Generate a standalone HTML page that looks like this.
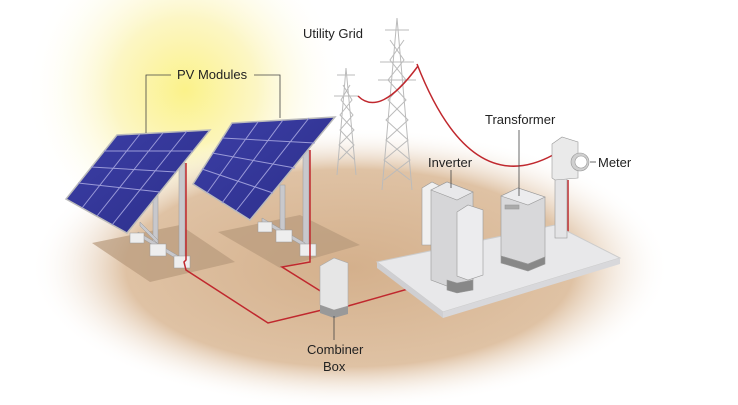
<!DOCTYPE html>
<html><head><meta charset="utf-8"><style>
html,body{margin:0;padding:0;background:#fff;}
svg{display:block}
text{font-family:"Liberation Sans",sans-serif;font-size:13px;fill:#222;}
</style></head><body>
<svg width="738" height="405" viewBox="0 0 738 405" xmlns="http://www.w3.org/2000/svg">
<defs>
<radialGradient id="sun" cx="185" cy="90" r="160" gradientUnits="userSpaceOnUse">
<stop offset="0" stop-color="#fbf28a"/><stop offset="0.45" stop-color="#fcf6c4"/><stop offset="1" stop-color="#fff" stop-opacity="0"/>
</radialGradient>
<radialGradient id="gnd" cx="350" cy="268" r="320" gradientTransform="translate(350 268) scale(1 0.44) translate(-350 -268)" gradientUnits="userSpaceOnUse">
<stop offset="0" stop-color="#d4b08c"/><stop offset="0.7" stop-color="#dfc2a4"/><stop offset="1" stop-color="#fff" stop-opacity="0"/>
</radialGradient>
<linearGradient id="pv" x1="0" y1="0" x2="1" y2="1"><stop offset="0" stop-color="#3c3fa6"/><stop offset="1" stop-color="#2c2e8a"/></linearGradient>
</defs>
<rect width="738" height="405" fill="#fff"/>
<circle cx="185" cy="90" r="160" fill="url(#sun)"/>
<ellipse cx="350" cy="268" rx="320" ry="142" fill="url(#gnd)"/>

<g stroke="#bbb" stroke-width="1" fill="none">
<path d="M397 18 L382 190 M397 18 L412 190 M385 30h24 M380 62h34 M378 80h38 M390 40 L404 60 L388 80 L406 100 L386 120 L408 140 L384 160 L410 180"/>
<path d="M404 40 L390 60 L406 80 L388 100 L408 120 L386 140 L410 160 L384 180"/>
<path d="M346 68 L337 175 M346 68 L356 175 M337 75h18 M334 96h24 M343 85 L352 100 L340 115 L354 130 L339 145 L355 160 M350 85 L341 100 L353 115 L340 130 L354 145 L339 160"/>
</g>
<path d="M358 96 Q380 118 418 66" stroke="#c0282e" stroke-width="1.5" fill="none"/>
<path d="M417 64 Q470 200 553 155" stroke="#c0282e" stroke-width="1.5" fill="none"/>

<polygon points="92,243 180,225 235,262 150,282" fill="#b89a7c" opacity="0.7"/>
<polygon points="218,232 300,215 360,245 280,268" fill="#b89a7c" opacity="0.7"/>

<g fill="#c8c8cc" stroke="#999" stroke-width="0.5">
<rect x="153" y="195" width="5" height="55"/><rect x="179" y="163" width="6" height="97"/>
<polygon points="138,232 182,258 182,262 138,236"/>
<polygon points="140,222 158,240 158,244 140,226"/>
<rect x="130" y="233" width="14" height="10" fill="#eee"/><rect x="150" y="244" width="16" height="12" fill="#eee"/><rect x="174" y="256" width="16" height="12" fill="#eee"/>
<rect x="280" y="185" width="5" height="45"/><rect x="303" y="150" width="6" height="98"/>
<polygon points="262,218 305,243 305,247 262,222"/>
<rect x="258" y="222" width="14" height="10" fill="#eee"/><rect x="276" y="230" width="16" height="12" fill="#eee"/><rect x="300" y="244" width="16" height="12" fill="#eee"/>
</g>
<polygon points="117,135 210,130 127,233 66,199" fill="url(#pv)" stroke="#bbb" stroke-width="1.5"/>
<g stroke="#9a9ad8" stroke-width="1"><path d="M104,151 L193,151 M91,167 L176,172 M78,183 L160,192 M140,134 L82,208 M163,133 L97,216 M187,131 L112,225"/></g>
<polygon points="232,123 335,117 250,220 193,184" fill="url(#pv)" stroke="#bbb" stroke-width="1.5"/>
<g stroke="#9a9ad8" stroke-width="1"><path d="M222,138 L315,143 M212,153 L295,168 M202,169 L273,193 M258,122 L207,193 M283,120 L222,203 M309,118 L236,211"/></g>

<g stroke="#c0282e" stroke-width="1.5" fill="none">
<path d="M186,163 V260 L184,262 L186,270 L268,323 L322,310"/>
<path d="M310,150 V248 L310,262 L282,267 L322,292"/>
<path d="M348,306 L408,289 L411,283 L440,276 L480,264 L530,246 L568,236 V180"/>
</g>

<polygon points="377,262 555,225 620,258 443,312" fill="#e8e8ea" stroke="#ccc"/>
<polygon points="377,262 443,312 443,318 377,268" fill="#cfcfd2"/>
<polygon points="443,312 620,258 620,264 443,318" fill="#d8d8db"/>

<polygon points="320,266 334,258 348,263 348,306 334,310 320,305" fill="#e6e6e6" stroke="#aaa" stroke-width="0.6"/>
<polygon points="320,305 334,310 348,306 348,314 334,318 320,313" fill="#999"/>
<line x1="334" y1="316" x2="334" y2="340" stroke="#444" stroke-width="0.8"/>

<g stroke="#999" stroke-width="0.6">
<polygon points="422,188 432,182 440,186 440,245 422,245" fill="#f0f0f0"/>
<polygon points="431,190 447,182 473,192 473,280 447,286 431,280" fill="#d6d6d8"/>
<polygon points="431,190 447,182 473,192 457,200" fill="#e8e8ea"/>
<polygon points="457,212 468,205 483,210 483,275 468,280 457,276" fill="#ececee"/>
<polygon points="447,280 457,283 473,280 473,290 457,293 447,290" fill="#888"/>
</g>
<line x1="451" y1="170" x2="451" y2="188" stroke="#444" stroke-width="0.8"/>
<g stroke="#999" stroke-width="0.6">
<polygon points="501,196 518,188 545,197 545,257 528,264 501,256" fill="#d8d8da"/>
<polygon points="501,196 518,188 545,197 528,205" fill="#ececee"/>
<polygon points="501,256 528,264 545,257 545,264 528,271 501,263" fill="#888"/>
<rect x="505" y="205" width="14" height="4" fill="#aaa"/>
</g>
<line x1="519" y1="130" x2="519" y2="196" stroke="#444" stroke-width="0.8"/>
<g stroke="#999" stroke-width="0.6">
<rect x="555" y="178" width="12" height="60" fill="#e4e4e6"/>
<polygon points="552,144 562,137 578,142 578,178 555,180 552,178" fill="#eaeaea"/>
<circle cx="580" cy="162" r="9" fill="#d0d0d0"/><circle cx="581" cy="162" r="6" fill="#fff"/>
</g>
<line x1="590" y1="162" x2="596" y2="162" stroke="#444" stroke-width="0.8"/>

<text x="303" y="38">Utility Grid</text>
<text x="177" y="79">PV Modules</text>
<path d="M171,75 H146 V133 M254,75 H280 V118" stroke="#444" stroke-width="0.8" fill="none"/>
<text x="428" y="167">Inverter</text>
<text x="485" y="124">Transformer</text>
<text x="598" y="167">Meter</text>
<text x="307" y="354">Combiner</text>
<text x="323" y="371">Box</text>
</svg>
</body></html>
